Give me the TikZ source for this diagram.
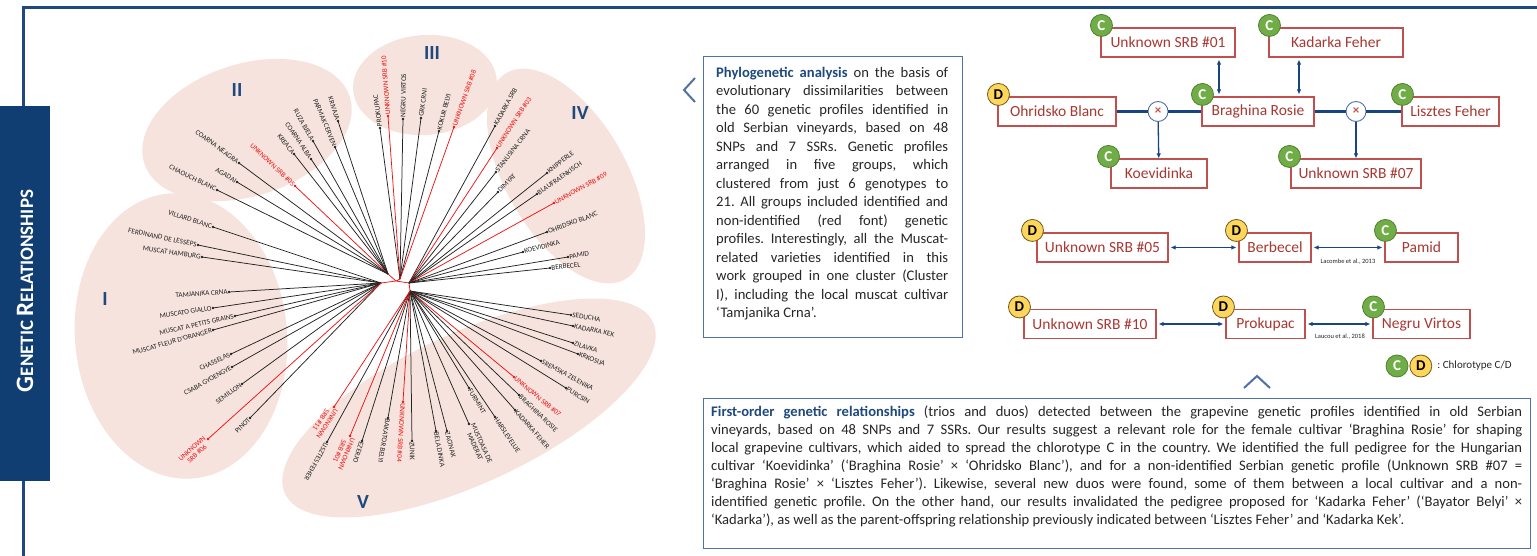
\documentclass[tikz,border=0pt]{standalone}
\usepackage{fontspec}
\setmainfont{Carlito}
\frenchspacing
\usetikzlibrary{arrows.meta, positioning, calc}

\definecolor{navyblue}{RGB}{16,62,114}
\definecolor{framblue}{RGB}{31,73,125}
\definecolor{boxblue}{RGB}{79,113,168}
\definecolor{arrowblue}{RGB}{25,68,130}
\definecolor{groupbg}{RGB}{246,227,221}
\definecolor{pedred}{RGB}{192,80,77}
\definecolor{pedtext}{RGB}{168,56,50}
\definecolor{chlgreen}{RGB}{112,173,71}
\definecolor{chlgreenrim}{RGB}{80,128,50}
\definecolor{chlyellow}{RGB}{255,214,92}
\definecolor{chlyellowrim}{RGB}{110,90,30}
\definecolor{leafink}{RGB}{35,35,35}
\definecolor{leafred}{RGB}{240,20,20}
\definecolor{bodytext}{RGB}{38,38,38}

\tikzset{
  leafline/.style={line width=0.75pt},
  leaflabel/.style={inner sep=1.2pt, align=center, font=\fontsize{7.2}{7.4}\selectfont},
  grouplabel/.style={text=framblue, font=\fontsize{20}{20}\selectfont\bfseries},
  pedbox/.style={draw=pedred, line width=1.1pt, fill=white, text=pedtext, inner sep=0pt,
    minimum height=29pt, font=\fontsize{15.5}{16}\selectfont},
  chlC/.style={circle, draw=chlgreenrim, line width=0.8pt, fill=chlgreen, text=white, inner sep=0pt,
    minimum size=22pt, font=\fontsize{15}{15}\selectfont\bfseries},
  chlD/.style={chlC, draw=chlyellowrim, fill=chlyellow, text=black},
  crossmark/.style={circle, draw=boxblue, line width=0.9pt, fill=white, text=pedred, inner sep=0pt,
    minimum size=20pt, font=\fontsize{13}{13}\selectfont\bfseries},
  trioline/.style={arrowblue, line width=3pt},
  duo/.style={arrowblue, line width=1.3pt, {Latex[length=5pt,width=4.5pt]}-{Latex[length=5pt,width=4.5pt]},
    shorten <=2pt, shorten >=2pt},
  kid/.style={arrowblue, line width=1.3pt, -{Latex[length=5pt,width=4.5pt]}},
  citation/.style={inner sep=0pt, text=leafink, font=\fontsize{6.5}{7}\selectfont},
  textpanel/.style={draw=boxblue, line width=1.2pt, inner sep=0pt},
  chevron/.style={boxblue, line width=2pt},
}

% one fan of leaves: hub, extra rotation, label anchor, list x/y/name/colour
\newcommand{\drawleaves}[4]{%
  \foreach \lx/\ly/\lname/\lcol [count=\i] in {#4} {
    \draw[leafline, \lcol] (#1) -- (\lx,\ly) coordinate (#1-tip-\i);
    \fill[\lcol] (#1-tip-\i) circle (1.3pt);
    \path let \p1 = ($(#1-tip-\i)-(#1)$), \n1 = {atan2(\y1,\x1)+#2} in
      node[leaflabel, text=\lcol, rotate=\n1, anchor=#3] (#1-lab-\i) at (#1-tip-\i) {\lname};
  }%
}

\begin{document}
\begin{tikzpicture}[x=1pt, y=-1pt]
  \useasboundingbox (0,0) rectangle (1537,556);

  % frame and side title
  \draw[framblue, line width=2.5pt] (1537,7.5) -- (23.5,7.5) -- (23.5,556);
  \node[fill=navyblue, anchor=north west, inner sep=0pt, minimum width=50pt, minimum height=375pt] (sidebar) at (0,106) {};
  \node[rotate=90, text=white, font=\bfseries] (sidetitle) at (25,291)
    {{\fontsize{25}{25}\selectfont G}{\fontsize{19}{19}\selectfont ENETIC }{\fontsize{25}{25}\selectfont R}{\fontsize{19}{19}\selectfont ELATIONSHIPS}};

  % cluster backgrounds
  \fill[groupbg, rotate around={5:(181,336)}] (181,336) ellipse [x radius=106, y radius=143];
  \fill[groupbg, rotate around={18:(247,130)}] (247,130) ellipse [x radius=108, y radius=66];
  \fill[groupbg, rotate around={4:(425,85)}] (425,85) ellipse [x radius=72, y radius=50];
  \fill[groupbg, rotate around={30:(566,176)}] (566,176) ellipse [x radius=60, y radius=119];
  \fill[groupbg, rotate around={25:(469,408)}] (469,408) ellipse [x radius=203, y radius=75];

  \node[grouplabel] (gI) at (105,299) {I};
  \node[grouplabel] (gII) at (237,90) {II};
  \node[grouplabel] (gIII) at (432,53) {III};
  \node[grouplabel] (gIV) at (580,113) {IV};
  \node[grouplabel] (gV) at (363,502) {V};

  % tree
  \coordinate (hI) at (381,283);
  \coordinate (hII) at (388,274);
  \coordinate (hIII) at (400,279);
  \coordinate (hIV) at (409,283);
  \coordinate (hV) at (410,291);
  \coordinate (hroot) at (396,281);
  \draw[leafline, leafred] (hI) -- (hroot) -- (hIV) -- (hV) (hII) -- (hroot) (hIII) -- (hroot);

  \drawleaves{hI}{180}{east}{213/227/VILLARD BLANC/leafink, 198/245/FERDINAND DE LESSEPS/leafink,
    202/257/MUSCAT HAMBURG/leafink, 229/292/TAMJANIKA CRNA/leafink, 213/308/MUSCATO GIALLO/leafink,
    235/316/MUSCAT A PETITS GRAINS/leafink, 213/330/MUSCAT FLEUR D'ORANGER/leafink,
    231/354/CHASSELAS/leafink, 232/367/CSABA GYOENGYE/leafink, 242/384/SEMILLON/leafink,
    250/418/PINOT/leafink, 208/439/{UNKNOWN\\SRB \#06}/leafred}
  \drawleaves{hII}{180}{east}{338/121/KRIVAJA/leafink, 335/147/PARMAK CERVEN/leafink,
    313/141/RUZA BJELA/leafink, 311/159/COARNA ALBA/leafink, 294/154/KREACA/leafink,
    295/186/UNKNOWN SRB \#05/leafred, 239/163/COARNA NEAGRA/leafink, 237/182/AGADAI/leafink,
    217/190/CHAOUCH BLANC/leafink}
  \drawleaves{hIII}{0}{west}{380/128/PROKUPAC/leafink, 388/116/UNKNOWN SRB \#10/leafred,
    403/119/NEGRU VIRTOS/leafink, 421/118/GRK CRNI/leafink, 439/131/KOKUR BELYI/leafink,
    454/127/UNKNOWN SRB \#08/leafred}
  \drawleaves{hIV}{0}{west}{495/126/KADARKA SRB/leafink, 497/148/UNKNOWN SRB \#03/leafred,
    496/172/STANUSINA CRNA/leafink, 498/192/DIMYAT/leafink, 547/173/KNIPPERLE/leafink,
    537/194/BLAUFRAENKISCH/leafink, 554/203/UNKNOWN SRB \#09/leafred, 547/232/OHRIDSKO BLANC/leafink,
    523/252/KOEVIDINKA/leafink, 568/257/PAMID/leafink, 550/268/BERBECEL/leafink}
  \drawleaves{hV}{0}{west}{571/315/SEDUCHA/leafink, 573/326/KADARKA KEK/leafink, 573/343/ZILAVKA/leafink,
    578/354/KRKOSIJA/leafink, 541/361/SREMSKA ZELENIKA/leafink, 566/388/PURCSIN/leafink,
    514/377/UNKNOWN SRB \#07/leafred, 519/395/BRAGHINA ROSIE/leafink, 515/410/KADARKA FEHER/leafink,
    495/417/HARSLEVELUE/leafink, 469/424/{MUSTOASA DE\\MADERAT}/leafink, 469/388/FURMINT/leafink,
    447/431/ZACINAK/leafink, 436/431/BELA DINKA/leafink, 412/441/ZUNIK/leafink,
    403/402/UNKNOWN SRB \#04/leafred, 388/418/BAKATOR BELYI/leafink, 362/441/EZERJO/leafink,
    350/436/{UNKNOWN\\SRB \#01}/leafred, 327/442/LISZTES FEHER/leafink, 334/407/{UNKNOWN\\SRB \#11}/leafred}

  % phylogeny text
  \draw[chevron] (695,78) -- (684,90) -- (695,102);
  \node[textpanel, anchor=north west, minimum width=259pt, minimum height=281pt] (phylopanel) at (703,56) {};
  \node[anchor=north west, inner sep=0pt, text width=232pt, align=justify, text=bodytext,
    font=\fontsize{14.6}{18.5}\selectfont] (phylotext) at (716,67)
    {{\color{framblue}\bfseries Phylogenetic analysis} on the basis of\linebreak
     evolutionary dissimilarities between\linebreak
     the 60 genetic profiles identified in\linebreak
     old Serbian vineyards, based on 48\linebreak
     SNPs and 7 SSRs. Genetic profiles\linebreak
     arranged in five groups, which\linebreak
     clustered from just 6 genotypes to\linebreak
     21. All groups included identified and\linebreak
     non-identified (red font) genetic\linebreak
     profiles. Interestingly, all the Muscat-\linebreak
     related varieties identified in this\linebreak
     work grouped in one cluster (Cluster\linebreak
     I), including the local muscat cultivar\linebreak
     ‘Tamjanika Crna’.};

  % trios
  \node[pedbox, minimum width=134pt] (srb01) at (1168,42.5) {Unknown SRB \#01};
  \node[pedbox, minimum width=134pt] (kfeher) at (1336,42.5) {Kadarka Feher};
  \node[pedbox, minimum width=118pt] (ohridsko) at (1057,111.5) {Ohridsko Blanc};
  \node[pedbox, minimum width=112pt] (braghina) at (1258,111.5) {Braghina Rosie};
  \node[pedbox, minimum width=97pt] (lisztes) at (1450.5,111.5) {Lisztes Feher};
  \node[pedbox, minimum width=96pt] (koevid) at (1159,173.5) {Koevidinka};
  \node[pedbox, minimum width=130pt] (srb07) at (1356,173.5) {Unknown SRB \#07};
  \node[crossmark] (crossA) at (1158,111.5) {×};
  \node[crossmark] (crossB) at (1356,111.5) {×};

  \draw[trioline] (ohridsko) -- (crossA) -- (braghina);
  \draw[trioline] (braghina) -- (crossB) -- (lisztes);
  \draw[kid] (crossA) -- (koevid);
  \draw[kid] (crossB) -- (srb07);
  \draw[duo] ([xshift=51pt]srb01.south) -- ([xshift=51pt]srb01.south |- braghina.north);
  \draw[duo] ([xshift=-37pt]kfeher.south) -- ([xshift=-37pt]kfeher.south |- braghina.north);

  \node[chlC] (srb01c) at ([shift={(1pt,2pt)}]srb01.north west) {C};
  \node[chlC] (kfeherc) at ([shift={(1pt,2pt)}]kfeher.north west) {C};
  \node[chlD] (ohridskod) at ([shift={(1pt,2pt)}]ohridsko.north west) {D};
  \node[chlC] (braghinac) at ([shift={(1pt,2pt)}]braghina.north west) {C};
  \node[chlC] (lisztesc) at ([shift={(1pt,2pt)}]lisztes.north west) {C};
  \node[chlC] (koevidc) at ([shift={(-2pt,2pt)}]koevid.north west) {C};
  \node[chlC] (srb07c) at ([shift={(-1pt,2pt)}]srb07.north west) {C};

  % duos
  \node[pedbox, minimum width=131pt] (srb05) at (1102.5,247.5) {Unknown SRB \#05};
  \node[pedbox, minimum width=72pt] (berbecel) at (1275,247.5) {Berbecel};
  \node[pedbox, minimum width=73pt] (pamid) at (1421.5,247.5) {Pamid};
  \node[pedbox, minimum width=132pt] (srb10) at (1090,324) {Unknown SRB \#10};
  \node[pedbox, minimum width=79pt] (prokupac) at (1265.5,324) {Prokupac};
  \node[pedbox, minimum width=97pt] (negru) at (1421.5,324) {Negru Virtos};

  \draw[duo] (srb05) -- (berbecel);
  \draw[duo] (berbecel) -- (pamid);
  \draw[duo] (srb10) -- (prokupac);
  \draw[duo] (prokupac) -- (negru);
  \node[citation] (lacombe) at (1348,262) {Lacombe et al., 2013};
  \node[citation] (laucou) at (1340,337) {Laucou et al., 2018};

  \node[chlD] (srb05d) at ([shift={(-4pt,2pt)}]srb05.north west) {D};
  \node[chlD] (berbeceld) at ([shift={(-2pt,2pt)}]berbecel.north west) {D};
  \node[chlC] (pamidc) at ([shift={(1pt,2pt)}]pamid.north west) {C};
  \node[chlD] (srb10d) at ([shift={(-4pt,2pt)}]srb10.north west) {D};
  \node[chlD] (prokupacd) at ([shift={(-2pt,2pt)}]prokupac.north west) {D};
  \node[chlC] (negruc) at ([shift={(1pt,2pt)}]negru.north west) {C};

  % legend
  \node[chlC] (legc) at (1397,366) {C};
  \node[chlD, right=1pt of legc] (legd) {D};
  \node[anchor=west, inner sep=0pt, text=bodytext, font=\fontsize{11}{11}\selectfont, right=5pt of legd] (legtext) {: Chlorotype C/D};

  % relationships text
  \draw[chevron] (1244,388) -- (1257,376) -- (1270,388);
  \node[textpanel, anchor=north west, minimum width=827pt, minimum height=150pt] (duopanel) at (703,398) {};
  \node[anchor=north west, inner sep=0pt, text width=811pt, align=justify, text=bodytext,
    font=\fontsize{14.6}{18}\selectfont] (duotext) at (711,406)
    {{\color{framblue}\bfseries First-order genetic relationships} (trios and duos) detected between the grapevine genetic profiles identified in old Serbian\linebreak
     vineyards, based on 48 SNPs and 7 SSRs. Our results suggest a relevant role for the female cultivar ‘Braghina Rosie’ for shaping\linebreak
     local grapevine cultivars, which aided to spread the chlorotype C in the country. We identified the full pedigree for the Hungarian\linebreak
     cultivar ‘Koevidinka’ (‘Braghina Rosie’ × ‘Ohridsko Blanc’), and for a non-identified Serbian genetic profile (Unknown SRB \#07 =\linebreak
     ‘Braghina Rosie’ × ‘Lisztes Feher’). Likewise, several new duos were found, some of them between a local cultivar and a non-\linebreak
     identified genetic profile. On the other hand, our results invalidated the pedigree proposed for ‘Kadarka Feher’ (‘Bayator Belyi’ ×\linebreak
     ‘Kadarka’), as well as the parent-offspring relationship previously indicated between ‘Lisztes Feher’ and ‘Kadarka Kek’.};
\end{tikzpicture}
\end{document}
